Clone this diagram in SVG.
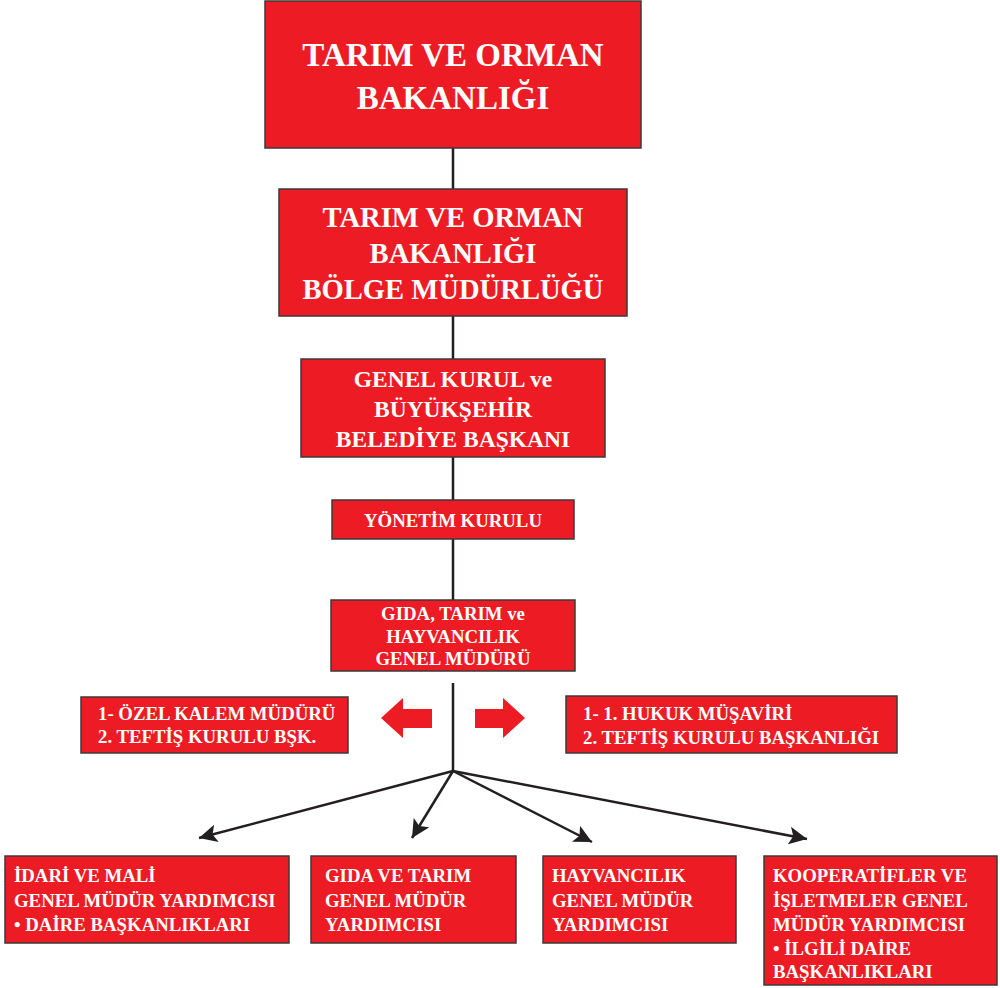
<svg xmlns="http://www.w3.org/2000/svg" width="1000" height="988" viewBox="0 0 1000 988">
<style>
.box{fill:#ED1C24;stroke:#3a3a3a;stroke-width:1.5}
.t{font-family:"Liberation Serif","Times New Roman",serif;font-weight:bold;fill:#ffffff}
.c{text-anchor:middle}
.s{font-size:18.8px}
.ln{stroke:#231F20;stroke-width:2.5;fill:none}
.arr{fill:#ED1C24}
</style>
<defs>
<marker id="ah" markerUnits="userSpaceOnUse" markerWidth="20" markerHeight="18" refX="18" refY="9" orient="auto">
<path d="M0,0 L18,9 L0,18 L4,9 Z" fill="#231F20"/>
</marker>
</defs>
<rect width="1000" height="988" fill="#ffffff"/>
<g id="connectors">
<line class="ln" x1="453" y1="148" x2="453" y2="189"/>
<line class="ln" x1="453" y1="316" x2="453" y2="359"/>
<line class="ln" x1="453" y1="457" x2="453" y2="500"/>
<line class="ln" x1="453" y1="539" x2="453" y2="600"/>
<line class="ln" x1="453" y1="683" x2="453" y2="771"/>
<line class="ln" x1="453" y1="771" x2="199" y2="838" marker-end="url(#ah)"/>
<line class="ln" x1="453" y1="771" x2="412" y2="838" marker-end="url(#ah)"/>
<line class="ln" x1="453" y1="771" x2="592" y2="842" marker-end="url(#ah)"/>
<line class="ln" x1="453" y1="771" x2="807" y2="839" marker-end="url(#ah)"/>
<polygon class="arr" points="381,718 403,698 403,709 432,709 432,728 403,728 403,738"/>
<polygon class="arr" points="525,718 503,698 503,709 475,709 475,728 503,728 503,738"/>
</g>
<g id="n1">
<rect class="box" x="265" y="1" width="376" height="147"/>
<text class="t c" x="453" y="66" font-size="33">TARIM VE ORMAN</text>
<text class="t c" x="453" y="109" font-size="33">BAKANLIĞI</text>
</g>
<g id="n2">
<rect class="box" x="279" y="189" width="348" height="127"/>
<text class="t c" x="453" y="227" font-size="28.6">TARIM VE ORMAN</text>
<text class="t c" x="453" y="263" font-size="28.6">BAKANLIĞI</text>
<text class="t c" x="453" y="299" font-size="28.6">BÖLGE MÜDÜRLÜĞÜ</text>
</g>
<g id="n3">
<rect class="box" x="301" y="359" width="304" height="98"/>
<text class="t c" x="453" y="387" font-size="23.5">GENEL KURUL ve</text>
<text class="t c" x="453" y="417" font-size="23.5">BÜYÜKŞEHİR</text>
<text class="t c" x="453" y="447" font-size="23.5">BELEDİYE BAŞKANI</text>
</g>
<g id="n4">
<rect class="box" x="332" y="500" width="242" height="39"/>
<text class="t c s" x="453" y="527">YÖNETİM KURULU</text>
</g>
<g id="n5">
<rect class="box" x="331" y="600" width="244" height="71"/>
<text class="t c s" x="453" y="620">GIDA, TARIM ve</text>
<text class="t c s" x="453" y="643">HAYVANCILIK</text>
<text class="t c s" x="453" y="665">GENEL MÜDÜRÜ</text>
</g>
<g id="n6">
<rect class="box" x="81" y="697" width="267" height="56"/>
<text class="t s" x="98" y="720">1- ÖZEL KALEM MÜDÜRÜ</text>
<text class="t s" x="98" y="743">2. TEFTİŞ KURULU BŞK.</text>
</g>
<g id="n7">
<rect class="box" x="566" y="696" width="331" height="57"/>
<text class="t s" x="583" y="720">1- 1. HUKUK MÜŞAVİRİ</text>
<text class="t s" x="583" y="744">2. TEFTİŞ KURULU BAŞKANLIĞI</text>
</g>
<g id="n8">
<rect class="box" x="5" y="856" width="284" height="87"/>
<text class="t s" x="14" y="882">İDARİ VE MALİ</text>
<text class="t s" x="14" y="907">GENEL MÜDÜR YARDIMCISI</text>
<text class="t s" x="14" y="931">• DAİRE BAŞKANLIKLARI</text>
</g>
<g id="n9">
<rect class="box" x="311" y="856" width="205" height="87"/>
<text class="t s" x="325" y="882">GIDA VE TARIM</text>
<text class="t s" x="325" y="907">GENEL MÜDÜR</text>
<text class="t s" x="325" y="931">YARDIMCISI</text>
</g>
<g id="n10">
<rect class="box" x="543" y="856" width="193" height="87"/>
<text class="t s" x="552" y="882">HAYVANCILIK</text>
<text class="t s" x="552" y="907">GENEL MÜDÜR</text>
<text class="t s" x="552" y="931">YARDIMCISI</text>
</g>
<g id="n11">
<rect class="box" x="764" y="856" width="233" height="129"/>
<text class="t s" x="773" y="882">KOOPERATİFLER VE</text>
<text class="t s" x="773" y="907">İŞLETMELER GENEL</text>
<text class="t s" x="773" y="931">MÜDÜR YARDIMCISI</text>
<text class="t s" x="773" y="955">• İLGİLİ DAİRE</text>
<text class="t s" x="773" y="978">BAŞKANLIKLARI</text>
</g>
</svg>
